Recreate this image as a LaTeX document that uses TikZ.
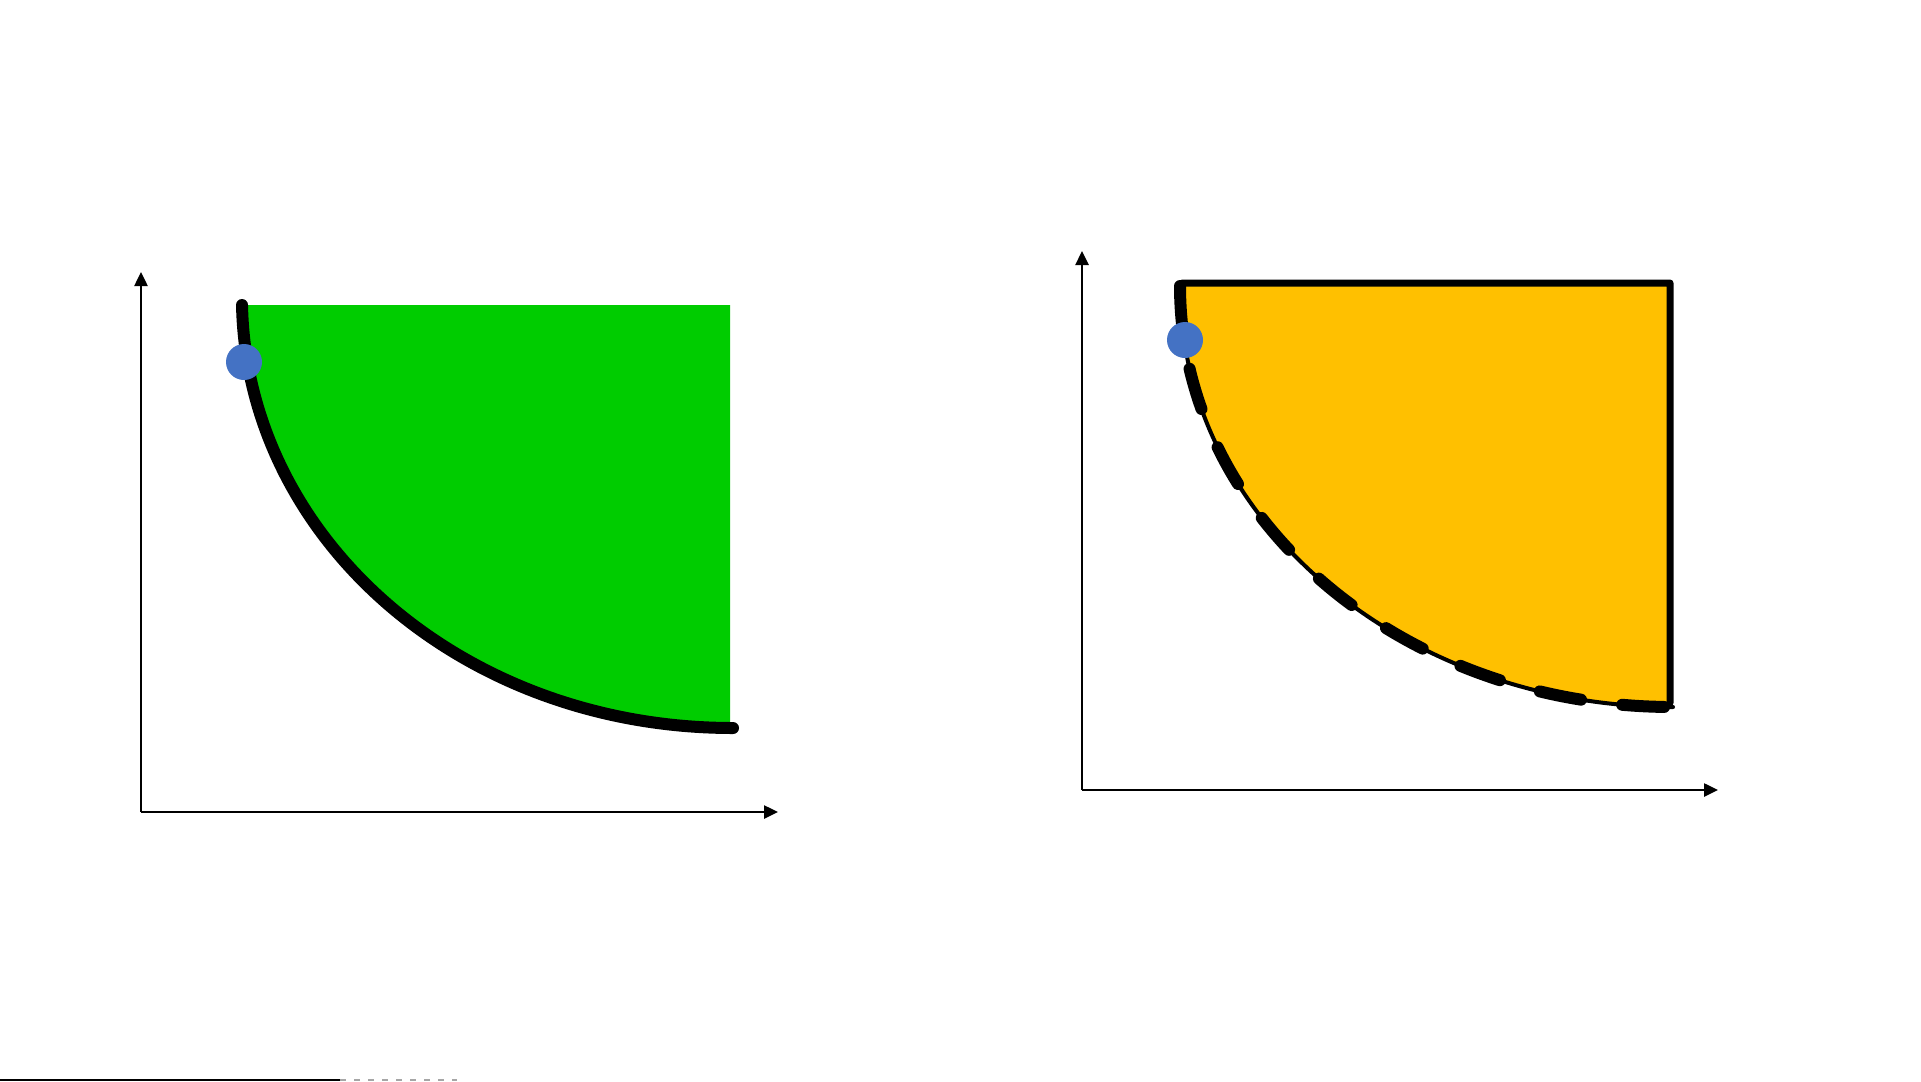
\documentclass[tikz,border=0pt]{standalone}
\usetikzlibrary{arrows.meta}
\definecolor{fgreen}{HTML}{00CC00}
\definecolor{fgold}{HTML}{FFC000}
\definecolor{dotblue}{HTML}{4472C4}
\begin{document}
\begin{tikzpicture}[x=1pt,y=-1pt,
  axisline/.style={line width=2.5pt,-{Triangle[length=14pt,width=13pt]}},
  frontier/.style={line width=12pt,line cap=round},
  thinfrontier/.style={line width=4pt,line cap=round},
  dashfrontier/.style={line width=12pt,line cap=round,dash pattern=on 42pt off 41.5pt},
  border/.style={line width=7pt,line join=round,line cap=round},
  blue dot/.style={circle,fill=dotblue,draw=none,minimum size=36pt,inner sep=0pt}]
\useasboundingbox (0,0) rectangle (1921,1081);
\fill[white] (0,0) rectangle (1921,1081);

% ---------- left panel ----------
\coordinate (LO) at (141,812);
\coordinate (LY) at (141,272);
\coordinate (LX) at (778,812);
\coordinate (LS) at (242,305);
\coordinate (LE) at (733,728);
\begin{scope}
  \clip (0,305) rectangle (730,1081);
  \fill[fgreen] (LS) .. controls (247,539) and (462,728) .. (LE) -- (733,305) -- cycle;
\end{scope}
\draw[frontier] (LS) .. controls (247,539) and (462,728) .. (LE);
\draw[axisline] (LO) -- (LY);
\draw[axisline] (LO) -- (LX);
\node[blue dot] (ldot) at (244,362) {};

% ---------- right panel ----------
\coordinate (RO) at (1082,790);
\coordinate (RY) at (1082,251);
\coordinate (RX) at (1718,790);
\coordinate (RS) at (1180,286);
\coordinate (RE) at (1673,707);
\coordinate (RTR) at (1670,283);
\coordinate (RBR) at (1670,703);
\fill[fgold] (RS) .. controls (1180,518) and (1401,707) .. (RE) -- (RBR) -- (RTR) -- (1182,283) -- cycle;
\draw[border] (RS) -- (1182,283) -- (RTR) -- (RBR);
\draw[thinfrontier] (RS) .. controls (1180,518) and (1401,707) .. (RE);
\draw[dashfrontier] (RS) .. controls (1180,518) and (1401,707) .. (RE);
\draw[axisline] (RO) -- (RY);
\draw[axisline] (RO) -- (RX);
\node[blue dot] (rdot) at (1185,340) {};

% ---------- bottom edge line ----------
\coordinate (B0) at (0,1079.5);
\coordinate (B1) at (340,1079.5);
\coordinate (B2) at (457,1079.5);
\draw[line width=2pt] (B0) -- (B1);
\draw[line width=2pt,gray!70,dash pattern=on 6pt off 8pt] (B1) -- (B2);
\end{tikzpicture}
\end{document}
